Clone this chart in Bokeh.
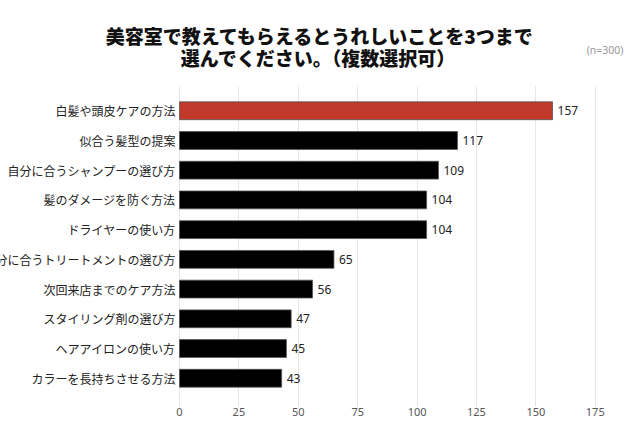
from bokeh.plotting import figure
from bokeh.layouts import column
from bokeh.models import Range1d, FactorRange, FixedTicker, ColumnDataSource
from bokeh.core.properties import value
from bokeh.embed import file_html
from bokeh.resources import INLINE

categories = ["白髪や頭皮ケアの方法", "似合う髪型の提案", "自分に合うシャンプーの選び方", "髪のダメージを防ぐ方法",
              "ドライヤーの使い方", "自分に合うトリートメントの選び方", "次回来店までのケア方法",
              "スタイリング剤の選び方", "ヘアアイロンの使い方", "カラーを長持ちさせる方法"]
values = [157, 117, 109, 104, 104, 65, 56, 47, 45, 43]
colors = ["#c0392b"] + ["#000000"] * 9
ticks = [0, 25, 50, 75, 100, 125, 150, 175]
title_lines = ["美容室で教えてもらえるとうれしいことを3つまで", "選んでください。（複数選択可）"]
note = "(n=300)"

JP = "Noto Sans CJK JP"
W = 624
HEAD = 85

# header (title + note)
h = figure(width=W, height=HEAD, output_backend="svg", toolbar_location=None,
           x_range=Range1d(0, W), y_range=Range1d(HEAD, 0),
           min_border=0, outline_line_color=None)
h.axis.visible = False
h.grid.visible = False
h.text(x=[320, 318], y=[35, 57], text=title_lines, text_align="center", text_baseline="middle",
       text_font=value("Noto Sans CJK JP Black, Noto Sans CJK JP"), text_font_size="19px",
       text_font_style="bold", text_color="#111111")
h.text(x=[623], y=[49], text=[note], text_align="right", text_baseline="middle",
       text_font=value("Noto Sans"), text_font_size="10.5px", text_color="#999999")

# main bar chart
p = figure(width=W, height=338, output_backend="svg", toolbar_location=None,
           x_range=Range1d(-75.34, 187.3),
           y_range=FactorRange(factors=categories[::-1], range_padding=0.07),
           min_border_left=0, min_border_right=0, min_border_top=0, min_border_bottom=20)
p.outline_line_color = None
p.yaxis.visible = False
p.ygrid.grid_line_color = None
p.xgrid.ticker = FixedTicker(ticks=ticks)
p.xgrid.grid_line_color = "#e6e6e6"
p.xaxis.ticker = FixedTicker(ticks=ticks)
p.xaxis.axis_line_color = None
p.xaxis.major_tick_line_color = "#cccccc"
p.xaxis.major_tick_in = 0
p.xaxis.major_tick_out = 2
p.xaxis.minor_tick_line_color = None
p.xaxis.major_label_text_font = "Noto Sans"
p.xaxis.major_label_text_font_size = "11px"
p.xaxis.major_label_text_color = "#555555"
p.xaxis.major_label_standoff = 2

src = ColumnDataSource(dict(cat=categories, val=values, color=colors,
                            lab=[str(v) for v in values], zero=[0] * len(values)))
p.hbar(y="cat", right="val", left=0, height=0.6, fill_color="color",
       line_color="#555555", line_width=0.8, source=src)
p.text(x="zero", y="cat", text="cat", source=src, x_offset=-4, text_align="right",
       text_baseline="middle", text_font=value(JP), text_font_size="12px", text_color="#222222")
p.text(x="val", y="cat", text="lab", source=src, x_offset=5, text_align="left",
       text_baseline="middle", text_font=value("Noto Sans"), text_font_size="12px", text_color="#222222")

layout = column(h, p, spacing=0)
open("out.html", "w").write(file_html(layout, INLINE))
